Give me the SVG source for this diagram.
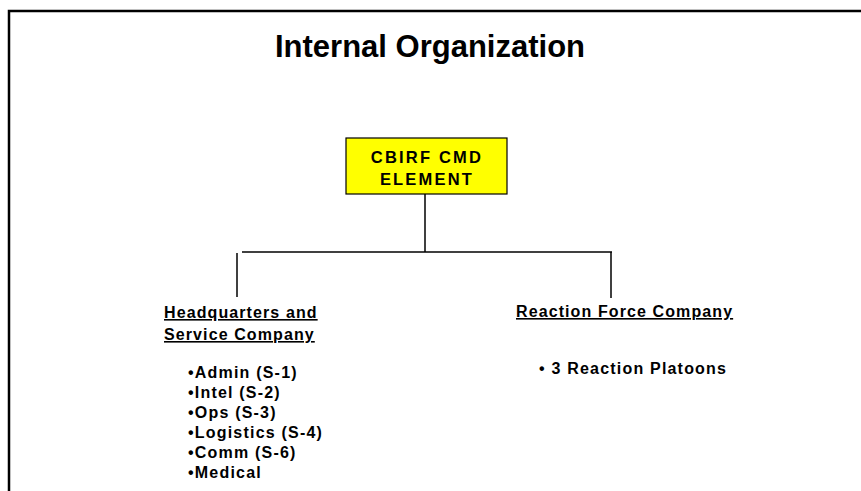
<svg xmlns="http://www.w3.org/2000/svg" width="861" height="491" viewBox="0 0 861 491">
<style>
text{font-family:"Liberation Sans",Arial,sans-serif;font-weight:bold;fill:#000}
.t{font-size:31px}
.b{font-size:16.5px;letter-spacing:2.2px}
.h{font-size:16px;text-decoration:underline;letter-spacing:1.1px}
.l{font-size:16px;letter-spacing:1.2px}
.ln{stroke:#000;stroke-width:1.5;fill:none}
</style>
<rect width="861" height="491" fill="#fff"/>
<path d="M9 491V11H861" stroke="#000" stroke-width="2.5" fill="none"/>
<text class="t" x="430" y="57" text-anchor="middle">Internal Organization</text>
<g id="connectors">
<line class="ln" x1="425" y1="194" x2="425" y2="252"/>
<line class="ln" x1="242" y1="252" x2="612" y2="252"/>
<line class="ln" x1="611" y1="252" x2="611" y2="298"/>
<line class="ln" x1="237" y1="253" x2="237" y2="297"/>
</g>
<g id="cmd">
<rect x="346" y="138" width="161" height="56" fill="#ffff00" stroke="#000" stroke-width="1.2"/>
<text class="b" x="427" y="163" text-anchor="middle">CBIRF CMD</text>
<text class="b" x="427" y="185" text-anchor="middle">ELEMENT</text>
</g>
<g id="hq">
<text class="h" x="164" y="318">Headquarters and </text>
<text class="h" x="164" y="340">Service Company</text>
<text class="l" x="188" y="378">•Admin (S-1)</text>
<text class="l" x="188" y="398">•Intel (S-2)</text>
<text class="l" x="188" y="418">•Ops (S-3)</text>
<text class="l" x="188" y="438">•Logistics (S-4)</text>
<text class="l" x="188" y="458">•Comm (S-6)</text>
<text class="l" x="188" y="478">•Medical</text>
</g>
<g id="rfc">
<text class="h" x="516" y="317">Reaction Force Company</text>
<text class="l" x="539" y="374">• 3 Reaction Platoons</text>
</g>
</svg>
